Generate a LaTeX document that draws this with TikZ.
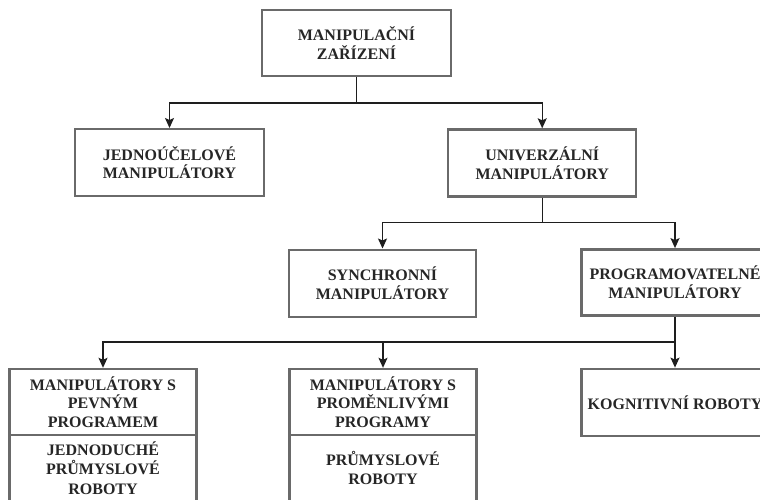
\documentclass[tikz,border=0pt]{standalone}
\usepackage{fontspec}
\setmainfont{Liberation Serif}
\usetikzlibrary{arrows.meta}
\definecolor{boxgray}{HTML}{6A6A6A}
\definecolor{txtgray}{HTML}{262626}
\definecolor{linegray}{HTML}{1E1E1E}
\tikzset{
  box/.style={draw=boxgray, line width=2.4pt, fill=white, inner sep=0pt,
    minimum width=187pt, minimum height=66pt, align=center, text=txtgray,
    font=\bfseries\fontsize{16}{18.6}\selectfont},
  lowbox/.style={box, font=\bfseries\fontsize{16}{19.6}\selectfont},
  conn/.style={draw=linegray, line width=1.3pt},
  arr/.style={conn, -{Stealth[length=10pt,width=9pt,inset=2pt]}},
}
\begin{document}
\begin{tikzpicture}[x=1pt,y=1pt]
\useasboundingbox (0,0) rectangle (760,-499);
\clip (0,0) rectangle (760,-499);
\fill[white] (0,0) rectangle (760,-499);
% boxes
\node[box, minimum width=189pt] (top) at (356.5,-43) {MANIPULAČNÍ\\ZAŘÍZENÍ};
\node[box, minimum width=189pt, minimum height=67pt] (jedno) at (169.5,-162.7) {JEDNOÚČELOVÉ\\MANIPULÁTORY};
\node[box, minimum width=188pt, minimum height=67pt] (univ) at (542.2,-163) {UNIVERZÁLNÍ\\MANIPULÁTORY};
\node[box, minimum height=67pt] (sync) at (382.5,-283.2) {SYNCHRONNÍ\\MANIPULÁTORY};
\node[box] (prog) at (675,-282.3) {PROGRAMOVATELNÉ\\MANIPULÁTORY};
\node[box] (mfix) at (103,-402) {MANIPULÁTORY S\\PEVNÝM\\PROGRAMEM};
\node[lowbox] (mfixlow) at (103,-468) {JEDNODUCHÉ\\PRŮMYSLOVÉ\\ROBOTY};
\node[box] (mvar) at (383,-402) {MANIPULÁTORY S\\PROMĚNLIVÝMI\\PROGRAMY};
\node[lowbox] (mvarlow) at (383,-468) {PRŮMYSLOVÉ\\ROBOTY};
\node[box, minimum height=67pt] (kogn) at (675,-402.3) {KOGNITIVNÍ ROBOTY};
% junctions
\coordinate (j1) at (356.5,-103);
\coordinate (j2) at (542.2,-222.7);
\coordinate (j3) at (675,-342);
% connectors
\draw[conn] (top.south) -- (j1);
\draw[arr] (j1) -| (jedno.north);
\draw[arr] (j1) -| (univ.north);
\draw[conn] (univ.south) -- (j2);
\draw[arr] (j2) -| (sync.north);
\draw[arr] (j2) -| (prog.north);
\draw[conn] (prog.south) -- (j3);
\draw[arr] (j3) -| (mfix.north);
\draw[arr] (j3) -| (mvar.north);
\draw[arr] (j3) -- (kogn.north);
\end{tikzpicture}
\end{document}
